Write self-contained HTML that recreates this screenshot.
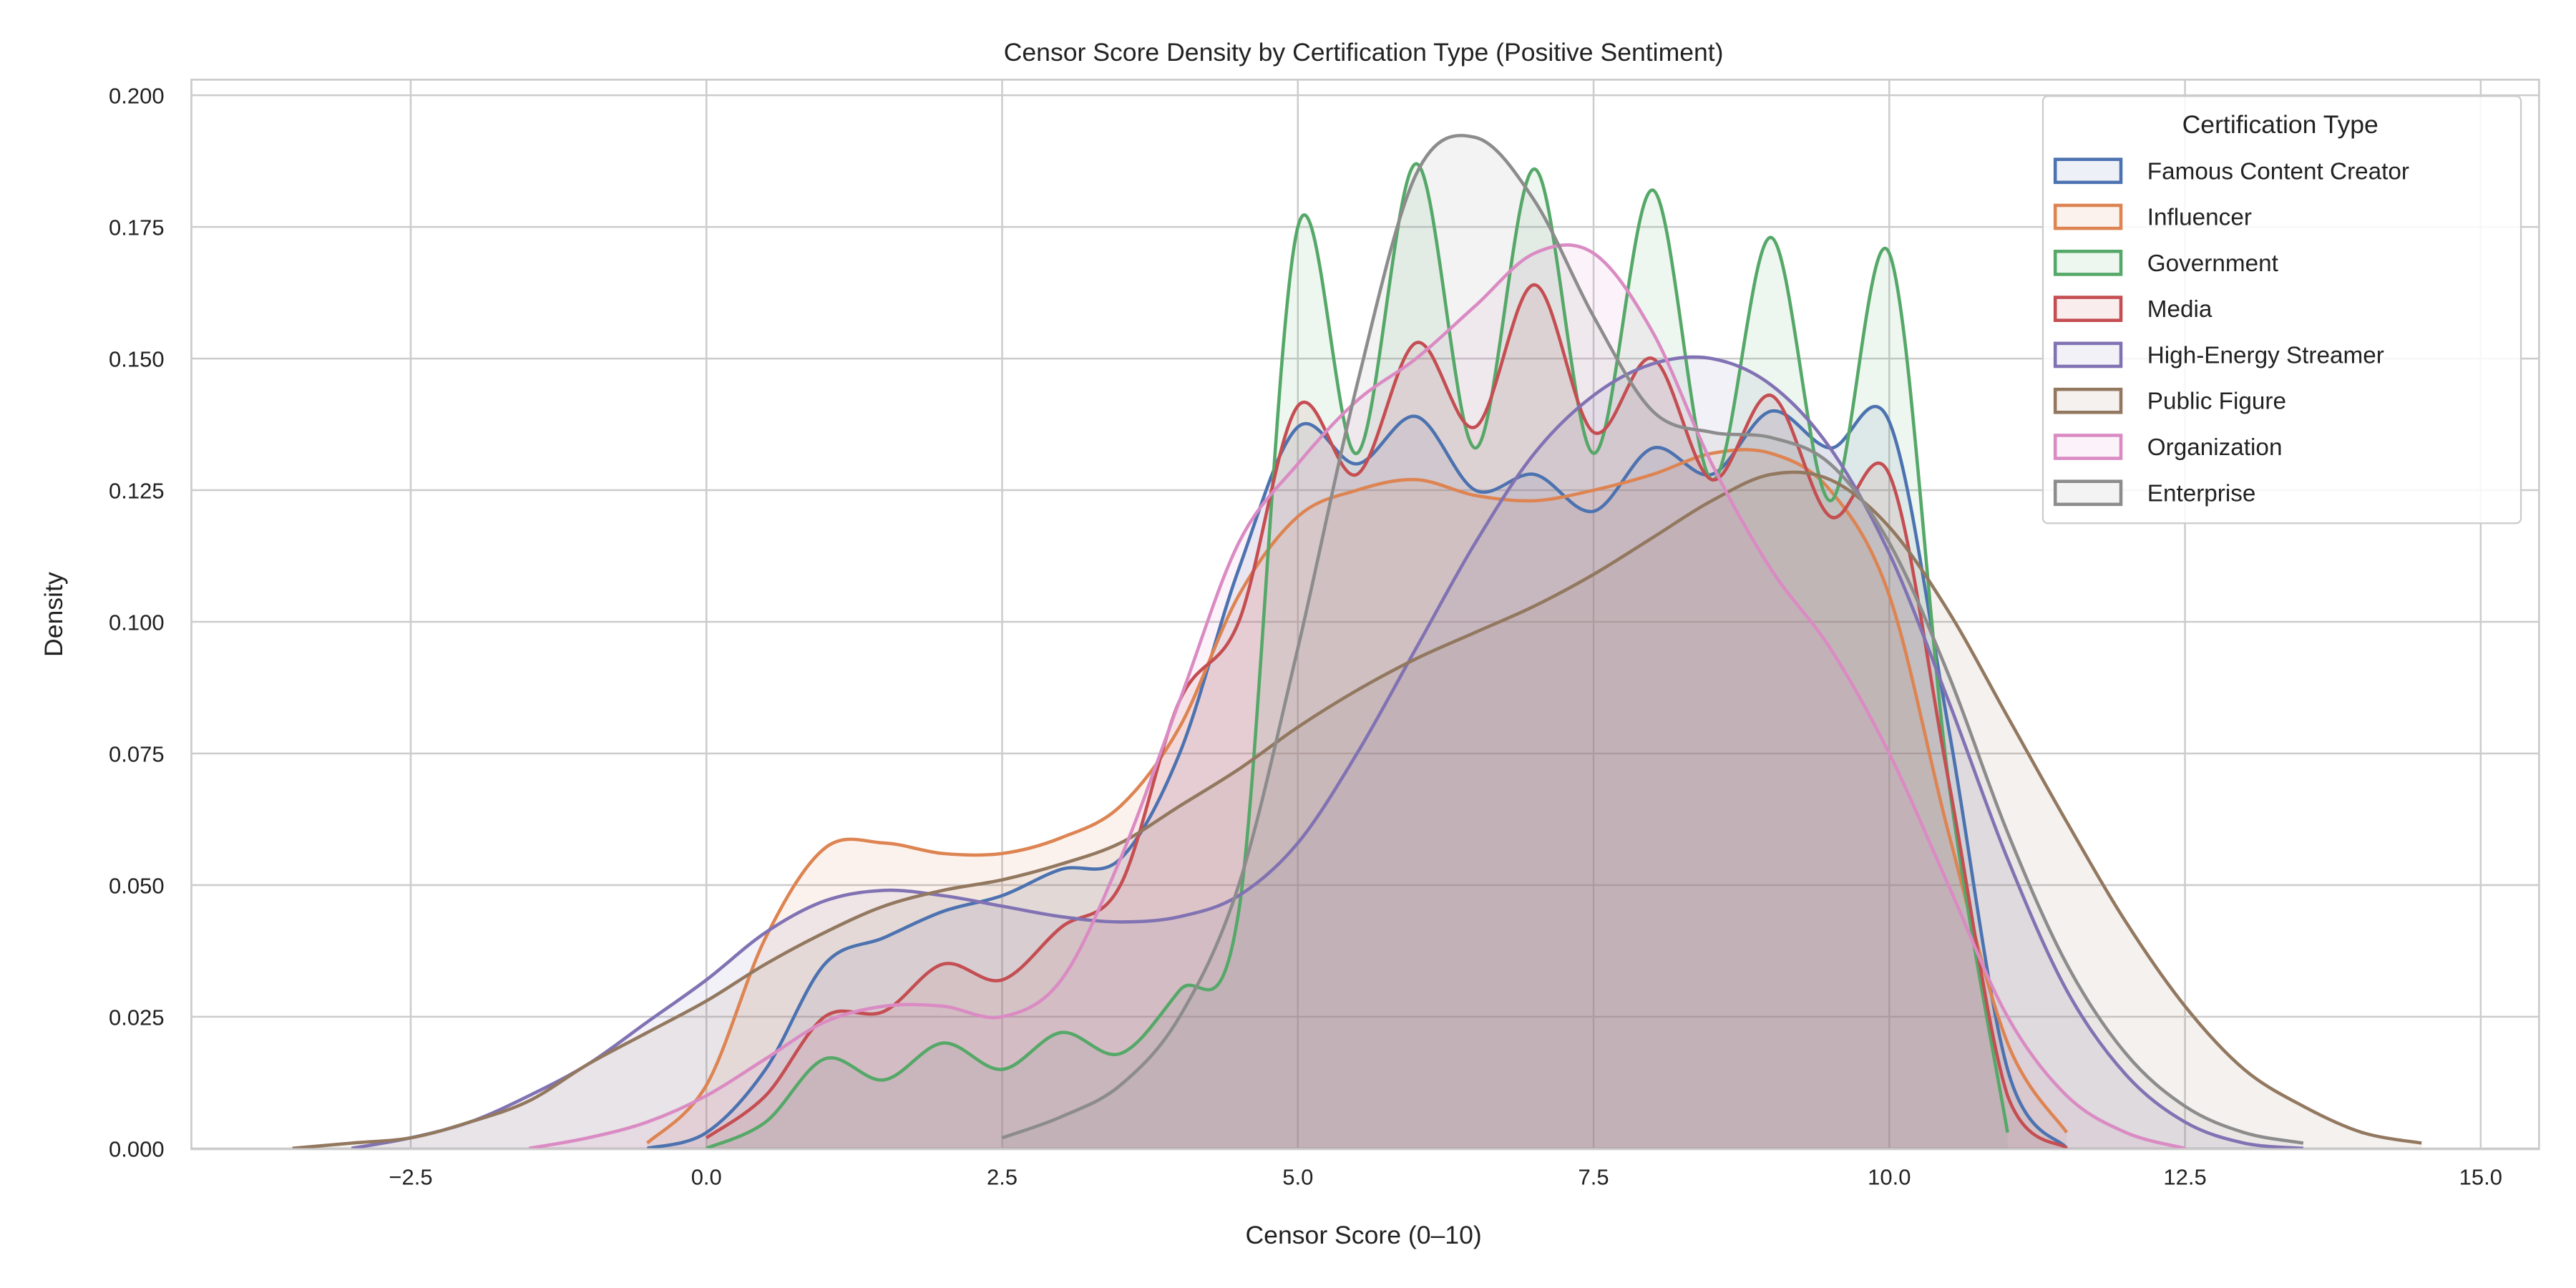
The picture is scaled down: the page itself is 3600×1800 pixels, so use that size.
<!DOCTYPE html>
<html><head><meta charset="utf-8"><style>
html,body{margin:0;padding:0;background:#fff}
svg{display:block}
text{font-family:"Liberation Sans",sans-serif;fill:#222}
</style></head><body>
<svg id="chart" width="3600" height="1800" viewBox="0 0 1568 784" xmlns="http://www.w3.org/2000/svg">
<rect x="0" y="0" width="1568" height="784" fill="#fff"/>
<g id="grid"></g>
<g id="fills"></g>
<g id="lines"></g>
<rect x="116.5" y="48.5" width="1429" height="651" fill="none" stroke="#cccccc" stroke-width="1.2"/>
<g id="ticks"></g>
<text x="830" y="37" text-anchor="middle" font-size="15.5">Censor Score Density by Certification Type (Positive Sentiment)</text>
<text x="830" y="757" text-anchor="middle" font-size="15.5">Censor Score (0–10)</text>
<text x="38" y="374" text-anchor="middle" font-size="15.5" transform="rotate(-90 38 374)">Density</text>
<g id="legend"></g>
</svg>
<script>
const seriesNames = ["Famous Content Creator","Influencer","Government","Media","High-Energy Streamer","Public Figure","Organization","Enterprise"];
const seriesColors = ["#4c72b0","#dd8452","#55a868","#c44e52","#8172b3","#937860","#da8bc3","#8c8c8c"];
const seriesStart = [-0.5,-0.5,0.0,0.0,-3.0,-3.5,-1.5,2.5];
const famousValues = [0,0.003,0.015,0.035,0.04,0.045,0.048,0.053,0.055,0.075,0.11,0.137,0.13,0.139,0.125,0.128,0.121,0.133,0.128,0.14,0.133,0.138,0.08,0.015,0.0];
const influencerValues = [0.001,0.012,0.04,0.057,0.058,0.056,0.056,0.059,0.065,0.08,0.105,0.12,0.125,0.127,0.124,0.123,0.125,0.128,0.132,0.132,0.125,0.105,0.06,0.02,0.003];
const governmentValues = [0,0.005,0.017,0.013,0.02,0.015,0.022,0.018,0.03,0.045,0.175,0.132,0.187,0.133,0.186,0.132,0.182,0.127,0.173,0.123,0.170,0.07,0.003];
const mediaValues = [0.002,0.01,0.025,0.026,0.035,0.032,0.042,0.05,0.085,0.1,0.141,0.128,0.153,0.137,0.164,0.136,0.15,0.127,0.143,0.12,0.128,0.07,0.01,0.0];
const streamerValues = [0,0.002,0.005,0.01,0.016,0.024,0.032,0.041,0.047,0.049,0.048,0.046,0.044,0.043,0.044,0.048,0.058,0.075,0.095,0.115,0.132,0.143,0.149,0.15,0.145,0.133,0.113,0.085,0.055,0.03,0.014,0.005,0.001,0];
const publicValues = [0,0.001,0.002,0.005,0.009,0.016,0.022,0.028,0.035,0.041,0.046,0.049,0.051,0.054,0.058,0.065,0.072,0.08,0.087,0.093,0.098,0.103,0.109,0.116,0.123,0.128,0.127,0.118,0.102,0.082,0.062,0.043,0.027,0.015,0.008,0.003,0.001];
const organizationValues = [0,0.002,0.005,0.01,0.017,0.024,0.027,0.027,0.025,0.032,0.055,0.085,0.115,0.13,0.142,0.15,0.16,0.17,0.17,0.155,0.13,0.11,0.095,0.075,0.05,0.025,0.01,0.003,0.0];
const enterpriseValues = [0.002,0.006,0.012,0.025,0.05,0.095,0.145,0.185,0.192,0.18,0.158,0.14,0.136,0.135,0.13,0.115,0.09,0.06,0.035,0.018,0.008,0.003,0.001];
const allValues = [famousValues,influencerValues,governmentValues,mediaValues,streamerValues,publicValues,organizationValues,enterpriseValues];
const xTicks = [-2.5,0,2.5,5,7.5,10,12.5,15];
const xTickLabels = ["−2.5","0.0","2.5","5.0","7.5","10.0","12.5","15.0"];
const yTicks = [0,0.025,0.05,0.075,0.1,0.125,0.15,0.175,0.2];
const yTickLabels = ["0.000","0.025","0.050","0.075","0.100","0.125","0.150","0.175","0.200"];

const NS="http://www.w3.org/2000/svg";
function X(v){return 430+72*v;}
function Y(d){return 699-3205*d;}
function mk(tag,attrs,parent){const e=document.createElementNS(NS,tag);for(const k in attrs)e.setAttribute(k,attrs[k]);parent.appendChild(e);return e;}

const grid=document.getElementById('grid'), ticks=document.getElementById('ticks');
xTicks.forEach((t,i)=>{
  const l=mk('line',{x1:X(t),x2:X(t),y1:48,y2:699,stroke:'#cccccc','stroke-width':1.1},grid);
  
  
  const tx=mk('text',{x:X(t),y:721,'text-anchor':'middle','font-size':13.5},ticks);
  tx.textContent=xTickLabels[i];
  
  
});
yTicks.forEach((t,i)=>{
  const l=mk('line',{x1:116,x2:1545,y1:Y(t),y2:Y(t),stroke:'#cccccc','stroke-width':1.1},grid);
  
  
  const tx=mk('text',{x:100,y:Y(t)+5,'text-anchor':'end','font-size':13.5},ticks);
  tx.textContent=yTickLabels[i];
  
  
});

function pathFor(pts){
  let d='M'+pts[0][0].toFixed(2)+','+pts[0][1].toFixed(2);
  for(let i=0;i<pts.length-1;i++){
    const p0=pts[Math.max(0,i-1)],p1=pts[i],p2=pts[i+1],p3=pts[Math.min(pts.length-1,i+2)];
    const t=0.5/3;
    let c1y=p1[1]+(p2[1]-p0[1])*t, c2y=p2[1]-(p3[1]-p1[1])*t;
    c1y=Math.min(c1y,699); c2y=Math.min(c2y,699);
    d+=' C'+(p1[0]+(p2[0]-p0[0])*t).toFixed(2)+','+c1y.toFixed(2)+' '+(p2[0]-(p3[0]-p1[0])*t).toFixed(2)+','+c2y.toFixed(2)+' '+p2[0].toFixed(2)+','+p2[1].toFixed(2);
  }
  return d;
}
const fills=document.getElementById('fills'), lines=document.getElementById('lines');
allValues.forEach((vals,s)=>{
  const pts=vals.map((v,i)=>[X(seriesStart[s]+0.5*i),Y(v)]);
  const d=pathFor(pts);
  const f=mk('path',{d:d+' L'+pts[pts.length-1][0]+',699 L'+pts[0][0]+',699 Z',fill:seriesColors[s],'fill-opacity':0.1,stroke:'none'},fills);
  
  
  const l=mk('path',{d:d,fill:'none',stroke:seriesColors[s],'stroke-width':2,'stroke-linejoin':'round'},lines);
  
  
});

const lg=document.getElementById('legend');
const box=mk('rect',{x:1243.5,y:58.5,width:291,height:260,rx:3,fill:'#fff','fill-opacity':0.85,stroke:'#cccccc','stroke-width':1},lg);


const lt=mk('text',{x:1388,y:81,'text-anchor':'middle','font-size':15.5},lg);
lt.textContent='Certification Type';


seriesNames.forEach((n,i)=>{
  const y=104+28*i;
  const g=mk('g',{},lg);
  
  
  mk('rect',{x:1251,y:y-7,width:40,height:14,fill:'#fff',stroke:'none'},g);
  mk('rect',{x:1251,y:y-7,width:40,height:14,fill:seriesColors[i],'fill-opacity':0.1,stroke:seriesColors[i],'stroke-width':2},g);
  const t=mk('text',{x:1307,y:y+5,'font-size':14.5},g);
  t.textContent=n;
});
</script>
</body></html>
